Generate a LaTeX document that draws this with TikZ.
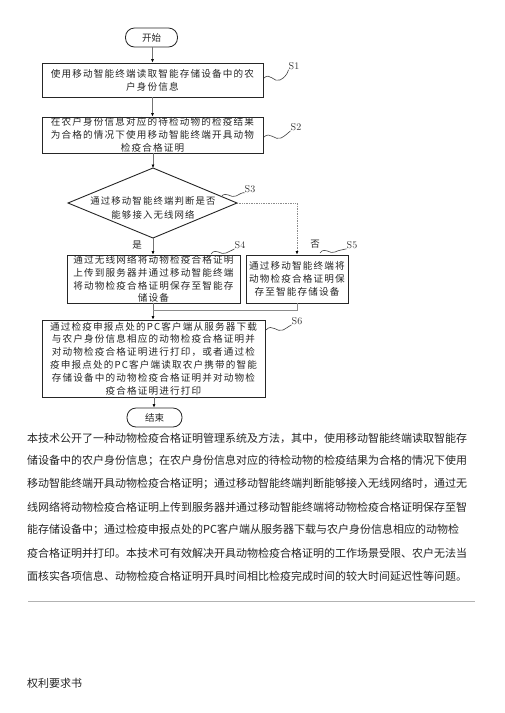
\documentclass[tikz,border=0pt]{standalone}
\usepackage{fontspec}
\newfontfamily\cjk{Noto Sans CJK SC}
\newfontfamily\cjksp[LetterSpace=12]{Noto Sans CJK SC}
\usetikzlibrary{arrows.meta}
\begin{document}
\begin{tikzpicture}[x=1pt,y=-1pt,
  box/.style={draw=black!85,line width=0.9pt,inner sep=0pt,align=center,
    font=\cjksp\fontsize{9.6}{12.8}\selectfont,text=black!85},
  term/.style={draw=black!85,line width=0.8pt,rounded corners=9pt,inner sep=0pt,
    font=\cjk\fontsize{9.5}{11}\selectfont,text=black!85},
  conn/.style={draw=black!55,line width=0.6pt,-{Latex[length=3.5pt,width=3pt,color=black]}},
  connplain/.style={draw=black!45,line width=0.6pt},
  dotconn/.style={draw=black!45,line width=0.7pt,densely dotted,-{Latex[length=3.5pt,width=3pt,color=black]}},
  slab/.style={font=\fontsize{10}{12}\selectfont,text=black!80,inner sep=0pt},
  sq/.style={draw=black!75,line width=0.6pt},
  yn/.style={font=\cjk\fontsize{9.5}{11}\selectfont,text=black!85,inner sep=0pt},
  para/.style={anchor=west,inner sep=0pt,font=\cjk\fontsize{11}{13}\selectfont,text=black!85},
]
\useasboundingbox[fill=white] (0,0) rectangle (504,713);

% nodes
\node[term,minimum width=52pt,minimum height=19pt] (start) at (151.5,37.5) {开始};
\node[box,minimum width=221pt,minimum height=34pt] (s1) at (152.5,80)
  {使用移动智能终端读取智能存储设备中的农\\户身份信息};
\node[box,minimum width=221pt,minimum height=36pt] (s2) at (152.5,135)
  {在农户身份信息对应的待检动物的检疫结果\\为合格的情况下使用移动智能终端开具动物\\检疫合格证明};
\coordinate (s3t) at (153,168);
\coordinate (s3b) at (153,238);
\coordinate (s3l) at (68,203);
\coordinate (s3r) at (237,203);
\draw[draw=black!85,line width=0.9pt] (s3t) -- (s3r) -- (s3b) -- (s3l) -- cycle;
\node[box,draw=none,font=\cjksp\fontsize{9.4}{13.5}\selectfont] (s3) at (153,208) {通过移动智能终端判断是否\\能够接入无线网络};
\node[box,minimum width=173pt,minimum height=48pt] (s4) at (153.5,279)
  {通过无线网络将动物检疫合格证明\\上传到服务器并通过移动智能终端\\将动物检疫合格证明保存至智能存\\储设备};
\node[box,minimum width=102pt,minimum height=48pt] (s5) at (297,279)
  {通过移动智能终端将\\动物检疫合格证明保\\存至智能存储设备};
\node[box,minimum width=223pt,minimum height=77pt] (s6) at (153.5,358.5)
  {通过检疫申报点处的PC客户端从服务器下载\\与农户身份信息相应的动物检疫合格证明并\\对动物检疫合格证明进行打印，或者通过检\\疫申报点处的PC客户端读取农户携带的智能\\存储设备中的动物检疫合格证明并对动物检\\疫合格证明进行打印};
\node[term,minimum width=55pt,minimum height=19pt] (end) at (154.5,417.5) {结束};

% connectors
\draw[conn] (start.south -| 152.5,0) -- (152.5,0 |- s1.north);
\draw[conn] (s1.south -| 152.5,0) -- (152.5,0 |- s2.north);
\draw[conn] (s2.south -| 153,0) -- (s3t);
\draw[conn] (s3b) -- (s3b |- s4.north);
\coordinate (rc) at (s5.north |- s3r);
\draw[dotconn] (s3r) -- (rc) -- (s5.north);
\draw[conn] (s4.south -| 153,0) -- (153,0 |- s6.north);
\coordinate (jn) at (s5.south |- 0,310);
\draw[connplain] (s5.south) -- (jn) -- (153,310);
\draw[conn] (s6.south -| 154,0) -- (154,0 |- end.north);

\node[yn] (yes) at (137,245) {是};
\node[yn] (no) at (315,244) {否};

% step labels and squiggles
\node[slab] (l1) at (294,66) {S1};
\draw[sq] (264,78) .. controls (270,72) and (274,83) .. (280,80) .. controls (284,78) and (287,75) .. (l1.south west);
\node[slab] (l2) at (296,127) {S2};
\draw[sq] (264,137) .. controls (270,131) and (275,141) .. (281,138) .. controls (285,136) and (288,133) .. (l2.south west);
\node[slab] (l3) at (250,189) {S3};
\draw[sq] (221,197) .. controls (226,190) and (231,199) .. (236,196) .. controls (240,194) and (243,192) .. (l3.south west);
\node[slab] (l4) at (240,245) {S4};
\draw[sq] (211,254) .. controls (216,247) and (221,256) .. (226,253) .. controls (230,251) and (233,250) .. (l4.south west);
\node[slab] (l5) at (352,245) {S5};
\draw[sq] (320,253) .. controls (325,246) and (330,255) .. (335,252) .. controls (339,250) and (342,250) .. (l5.south west);
\node[slab] (l6) at (297,321) {S6};
\draw[sq] (266,330) .. controls (272,323) and (277,333) .. (283,330) .. controls (287,328) and (289,326) .. (l6.south west);

% paragraph
\node[para] (p1) at (27,438) {本技术公开了一种动物检疫合格证明管理系统及方法，其中，使用移动智能终端读取智能存};
\node[para] (p2) at (27,461) {储设备中的农户身份信息；在农户身份信息对应的待检动物的检疫结果为合格的情况下使用};
\node[para] (p3) at (27,484) {移动智能终端开具动物检疫合格证明；通过移动智能终端判断能够接入无线网络时，通过无};
\node[para] (p4) at (27,507) {线网络将动物检疫合格证明上传到服务器并通过移动智能终端将动物检疫合格证明保存至智};
\node[para] (p5) at (27,530) {能存储设备中；通过检疫申报点处的PC客户端从服务器下载与农户身份信息相应的动物检};
\node[para] (p6) at (27,553) {疫合格证明并打印。本技术可有效解决开具动物检疫合格证明的工作场景受限、农户无法当};
\node[para] (p7) at (27,576) {面核实各项信息、动物检疫合格证明开具时间相比检疫完成时间的较大时间延迟性等问题。};
\coordinate (r1) at (28,601);
\coordinate (r2) at (475,601);
\draw[draw=black!30,line width=0.8pt] (r1) -- (r2);
\node[para] (claims) at (27,683) {权利要求书};
\end{tikzpicture}
\end{document}
